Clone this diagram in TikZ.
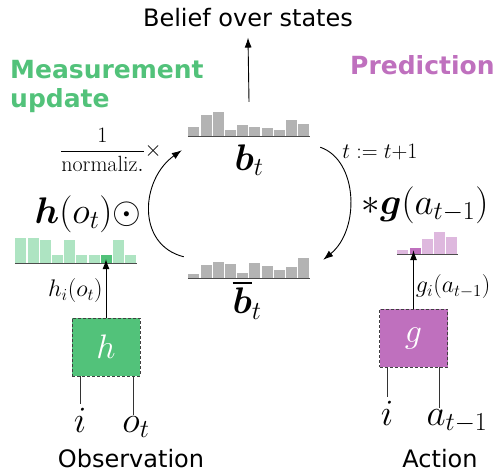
\RequirePackage{fix-cm}
\documentclass[tikz,border=0pt]{standalone}
\usepackage{amsmath}
\usepackage{amssymb}
\usepackage{fontspec}
\newfontfamily\dejavu{DejaVu Sans}
\usetikzlibrary{arrows.meta,positioning,calc}

\definecolor{measgreen}{RGB}{82,194,122}
\definecolor{lightgreen}{RGB}{174,228,194}
\definecolor{predpurple}{RGB}{191,112,190}
\definecolor{lightpurple}{RGB}{222,184,222}
\definecolor{bargray}{RGB}{179,179,179}

% bars of a histogram standing on the bottom side of node #1
\newcommand{\histo}[2]{%
  \foreach \h/\c [count=\i] in {#2}
    \fill[\c] ([xshift={(\i-1)*12.2+0.6}]#1.south west) rectangle ++(11,-\h);
  \draw[histline] (#1.south west) -- (#1.south east);}

\begin{document}
\begin{tikzpicture}[
        x=1pt, y=-1pt,
        >={Latex[length=10pt,width=7pt]},
        every node/.style={inner sep=1pt},
        txt/.style={font=\dejavu\fontsize{24}{29}\selectfont},
        head/.style={font=\dejavu\bfseries\fontsize{25}{29}\selectfont, align=left},
        big/.style={font=\fontsize{37}{42}\selectfont},
        small/.style={font=\fontsize{22}{26}\selectfont},
        tiny/.style={font=\fontsize{24}{28}\selectfont},
        hist/.style={inner sep=0, minimum width=#1},
        func/.style={rectangle, draw=black!75, densely dashed, thin, minimum width=68pt, minimum height=58pt, font=\fontsize{34}{38}\selectfont, text=white},
        arr/.style={->, line width=0.9pt},
        leg/.style={line width=0.9pt, black!80},
        histline/.style={line width=1.2pt, black!70}
    ]
        \useasboundingbox (0,0) rectangle (497,473);

        % Histograms
        \node[hist=122pt, minimum height=34pt] (bt) at (249,119) {};
        \node[hist=122pt, minimum height=24pt] (bb) at (249,266) {};
        \node[hist=122pt, minimum height=26pt] (hh) at (76,250) {};
        \node[hist=61pt, minimum height=20pt] (gh) at (427.5,244) {};

        \histo{bt}{9/bargray, 21/bargray, 24/bargray, 6/bargray, 11/bargray, 9/bargray, 8/bargray, 6/bargray, 16/bargray, 12/bargray}
        \histo{bb}{4/bargray, 13/bargray, 16/bargray, 14/bargray, 5/bargray, 15/bargray, 12/bargray, 8/bargray, 11/bargray, 20/bargray}
        \histo{hh}{25/lightgreen, 25/lightgreen, 23/lightgreen, 8/lightgreen, 23/lightgreen, 8/lightgreen, 8/lightgreen, 8/measgreen, 23/lightgreen, 8/lightgreen}
        \histo{gh}{4/lightpurple, 6/predpurple, 15/lightpurple, 22/lightpurple, 17/lightpurple}

        % Nodes
        \node[big] (btlab) at (249,160) {$\boldsymbol{b}_t$};
        \node[big] (bblab) at (247,300) {$\overline{\boldsymbol{b}}_t$};
        \node[txt, anchor=base] (belief) at (248,27) {Belief over states};
        \node[head, anchor=north west, inner sep=0] (meas) at (10,60) {\textcolor{measgreen}{Measurement}\\\textcolor{measgreen}{update}};
        \node[head, anchor=base west, inner sep=0, text=predpurple] (pred) at (350,75) {Prediction};

        \node[small] (norm) at (111,150) {$\dfrac{1}{\mathrm{normaliz.}}\times$};
        \node[big] (hmul) at (88,214) {$\boldsymbol{h}(o_t)\odot$};
        \node[small, anchor=base] (tinc) at (380,158) {$t:=t{+}1$};
        \node[big] (gconv) at (425,205) {$*\boldsymbol{g}(a_{t-1})$};

        \node[func, fill=measgreen] (h) at (106,347) {$h$};
        \node[func, fill=predpurple] (g) at (413.5,338) {$g$};

        \node[big, anchor=base] (hi) at (80,432) {$i$};
        \node[big, anchor=base] (ho) at (136,432) {$o_t$};
        \node[big, anchor=base] (gi) at (387,425) {$i$};
        \node[big, anchor=base] (ga) at (457,425) {$a_{t-1}$};
        \node[txt, anchor=base] (obs) at (131,467) {Observation};
        \node[txt, anchor=base] (act) at (440,467) {Action};

        % Connections
        \draw[arr] (bt.north) -- ([yshift=-9pt]belief.south);
        \draw[arr] ([shift={(-4,3)}]bb.north west) .. controls +(-48,-12) and +(-41,29) .. ([shift={(-6,14)}]bt.south west);
        \draw[arr] ([shift={(10,11)}]bt.south east) .. controls +(38,13) and +(37,-30) .. ([shift={(13,6)}]bb.north east);

        \draw[arr, shorten >=-4pt] (h.north) -- (h.north |- hh.south)
            node[tiny, midway, left=2pt] {$h_i(o_t)$};
        \draw[arr, shorten >=-4pt] (g.north) -- (g.north |- gh.south)
            node[tiny, pos=0.4, right=1pt] {$g_i(a_{t-1})$};

        \draw[leg] (h.south -| hi) -- ([yshift=3pt]hi.north);
        \draw[leg] ([xshift=27pt]h.south) -- ([xshift=27pt]h.south |- ho.north);
        \draw[leg] (g.south -| gi) -- ([yshift=3pt]gi.north);
        \draw[leg] ([xshift=26pt]g.south) -- ([xshift=26pt]g.south |- ga.north);
    \end{tikzpicture}
\end{document}
